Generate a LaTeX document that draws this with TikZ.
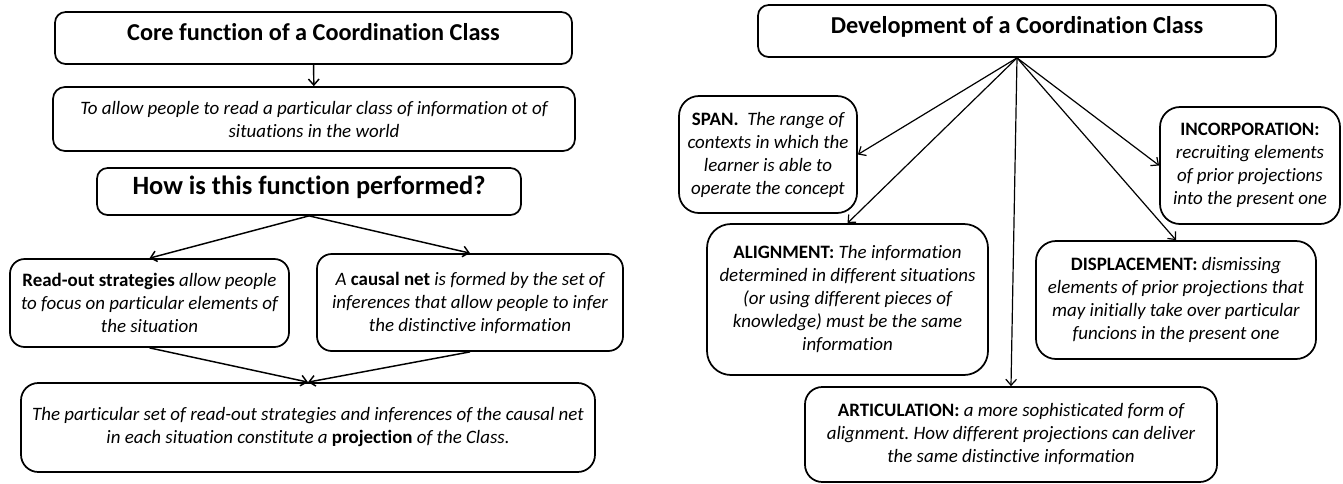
\documentclass[tikz,border=0pt]{standalone}
\usepackage{fontspec}
\setmainfont{Carlito}[Ligatures=NoCommon]
\usetikzlibrary{arrows.meta}
\frenchspacing

\newcommand{\pogr}[1]{\textup{\bfseries #1}}

\begin{document}
\begin{tikzpicture}[x=0.75pt, y=-0.75pt, >={Straight Barb[length=4.5pt,width=8pt]},
    ramka/.style={rectangle, draw, line width=1.3pt, rounded corners=#1, align=center, inner sep=1pt},
    ramka/.default=8pt,
    tytul/.style={font=\fontsize{18.2}{22}\selectfont\bfseries, text depth=9pt},
    opis/.style={font=\fontsize{14.2}{17.25}\selectfont\itshape}]
        \useasboundingbox (0,0) rectangle (1343,483);

        % Funkcja klasy
        \node[ramka, tytul, minimum width=387.75pt, minimum height=39pt] (core) at (313.5,38) {Core function of a Coordination Class};
        \node[ramka=9pt, opis, minimum width=391.5pt, minimum height=48pt] (allow) at (314,119) {To allow people to read a particular class of information ot of\\ situations in the world};
        \node[ramka, tytul, font=\fontsize{19.8}{24}\selectfont\bfseries, minimum width=318pt, minimum height=35.25pt] (how) at (309,191.5) {How is this function performed?};
        \node[ramka=11pt, opis, minimum width=209.25pt, minimum height=66pt] (read) at (149.5,303) {\pogr{Read-out strategies} allow people\\ to focus on particular elements of\\ the situation};
        \node[ramka=11pt, opis, minimum width=229.5pt, minimum height=72.75pt] (causal) at (470,302.5) {A \pogr{causal net} is formed by the set of\\ inferences that allow people to infer\\ the distinctive information};
        \node[ramka=13pt, opis, minimum width=430.5pt, minimum height=66.75pt] (proj) at (308,427.5) {The particular set of read-out strategies and inferences of the causal net\\ in each situation constitute a \pogr{projection} of the Class.};

        % Rozwoj klasy
        \node[ramka, tytul, minimum width=388.5pt, minimum height=39pt] (dev) at (1017,31) {Development of a Coordination Class};
        \node[ramka=15pt, opis, minimum width=133.5pt, minimum height=87.75pt] (span) at (768,154.5) {\pogr{SPAN.}\ \ The range of\\ contexts in which the\\ learner is able to\\ operate the concept};
        \node[ramka=18pt, opis, minimum width=210.75pt, minimum height=113.25pt] (align) at (847.5,299.5) {\pogr{ALIGNMENT:} The information\\ determined in different situations\\ (or using different pieces of\\ knowledge) must be the same\\ information};
        \node[ramka=13pt, opis, minimum width=309pt, minimum height=71.25pt] (artic) at (1011,434.5) {\pogr{ARTICULATION:} a more sophisticated form of\\ alignment. How different projections can deliver\\ the same distinctive information};
        \node[ramka=15pt, opis, minimum width=135pt, minimum height=87.75pt] (incorp) at (1250,165.5) {\pogr{INCORPORATION:}\\ recruiting elements\\ of prior projections\\ into the present one};
        \node[ramka=15pt, opis, minimum width=210pt, minimum height=88.5pt] (displ) at (1176,300) {\pogr{DISPLACEMENT:} dismissing\\ elements of prior projections that\\ may initially take over particular\\ funcions in the present one};

        % Strzalki
        \draw[->, line width=1.1pt] (core) -- (allow);
        \draw[->, line width=1.1pt] (how.south) -- (read.north);
        \draw[->, line width=1.1pt] (how.south) -- (causal.north);
        \draw[->, line width=1.1pt] (read.south) -- (proj.north);
        \draw[->, line width=1.1pt] (causal.south) -- (proj.north);

        \draw[->, line width=0.9pt] (dev.south) -- (span.east);
        \draw[->, line width=0.9pt] (dev.south) -- (align.north);
        \draw[->, line width=0.9pt] (dev.south) -- (artic.north);
        \draw[->, line width=0.9pt] (dev.south) -- (incorp.west);
        \draw[->, line width=0.9pt] (dev.south) -- (displ.north);
    \end{tikzpicture}
\end{document}
